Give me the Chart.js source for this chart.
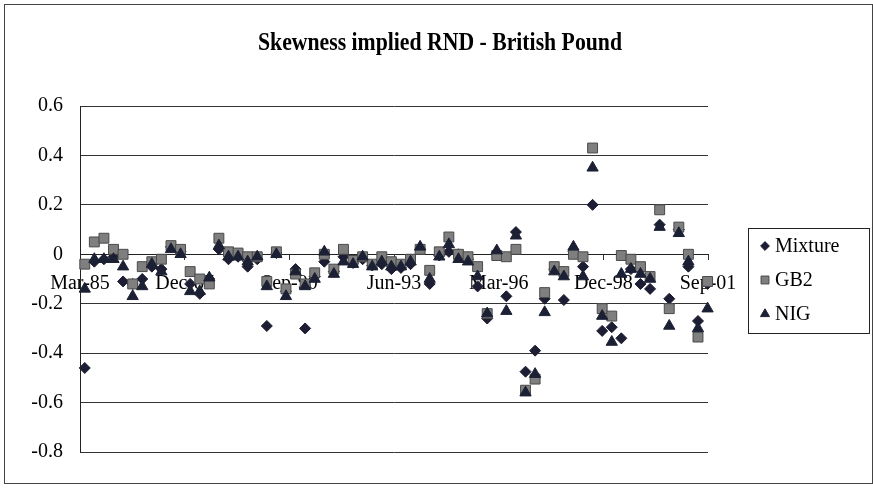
<!DOCTYPE html>
<html>
<head>
<meta charset="utf-8">
<script src="https://cdn.jsdelivr.net/npm/chart.js@4.4.1/dist/chart.umd.min.js"></script>
<style>
  html, body { margin: 0; padding: 0; background: #fff; }
  #wrap { width: 873px; height: 488px; position: relative; }
</style>
</head>
<body>
<div id="wrap"><canvas id="skewChart"></canvas></div>
<script>
// x axis tick labels (every 11 quarters)
var tickLabels = ["Mar-85", "Dec-87", "Sep-90", "Jun-93", "Mar-96", "Dec-98", "Sep-01"];
var seriesNames = ["Mixture", "GB2", "NIG"];

// skewness of implied RND, one observation per quarter
var mixture = [-0.46, -0.03, -0.02, -0.01, -0.11, -0.12, -0.10, -0.05, -0.06, 0.03,
  0.01, -0.12, -0.16, -0.10, 0.02, -0.02, -0.01, -0.05, -0.02, -0.29,
  0.005, -0.15, -0.06, -0.30, -0.09, -0.03, -0.07, -0.01, -0.035, -0.02,
  -0.045, -0.04, -0.06, -0.055, -0.04, 0.02, -0.12, -0.005, 0.01, 0.0,
  -0.02, -0.13, -0.26, 0.005, -0.17, 0.09, -0.475, -0.39, -0.18, -0.06,
  -0.185, 0.01, -0.05, 0.20, -0.31, -0.295, -0.34, -0.06, -0.12, -0.14,
  0.12, -0.18, 0.10, -0.05, -0.27, -0.12];
var gb2 = [-0.04, 0.05, 0.065, 0.02, 0.0, -0.12, -0.05, -0.03, -0.02, 0.035,
  0.02, -0.07, -0.10, -0.12, 0.065, 0.01, 0.005, -0.01, -0.01, -0.11,
  0.01, -0.14, -0.08, -0.12, -0.075, 0.0, -0.06, 0.02, -0.025, -0.01,
  -0.04, -0.01, -0.03, -0.04, -0.02, 0.02, -0.065, 0.01, 0.07, 0.0,
  -0.01, -0.05, -0.24, -0.005, -0.01, 0.02, -0.55, -0.505, -0.155, -0.05,
  -0.07, 0.0, -0.01, 0.43, -0.22, -0.25, -0.005, -0.02, -0.05, -0.09,
  0.18, -0.22, 0.11, 0.0, -0.335, -0.11];
var nig = [-0.14, -0.02, -0.02, -0.02, -0.05, -0.17, -0.13, -0.04, -0.07, 0.02,
  0.0, -0.15, -0.15, -0.095, 0.035, -0.01, -0.01, -0.03, -0.01, -0.13,
  0.0, -0.17, -0.07, -0.13, -0.10, 0.01, -0.08, -0.03, -0.04, -0.01,
  -0.05, -0.03, -0.05, -0.05, -0.03, 0.03, -0.10, -0.01, 0.04, -0.02,
  -0.03, -0.09, -0.24, 0.015, -0.23, 0.075, -0.56, -0.485, -0.235, -0.07,
  -0.09, 0.03, -0.09, 0.35, -0.25, -0.355, -0.08, -0.06, -0.08, -0.10,
  0.11, -0.29, 0.085, -0.03, -0.30, -0.22];

var firstObs = 0.5;   // first observation sits half a quarter after Mar-85
var obsStep = 1.007;  // observations are spaced a touch over a quarter apart

function toPoints(arr) {
    return arr.map((v, i) => ({x: firstObs + i * obsStep, y: v}));
}

var serif = "'Liberation Serif', 'Times New Roman', serif";
Chart.defaults.font.family = serif;
Chart.defaults.color = "#000";

var styles = [
    {shape: "rectRot", radius: 5.5, fill: "#1d1d33", stroke: "#1d1d33"},
    {shape: "rect", radius: 7, fill: "#7f7f7f", stroke: "#4a4a4a"},
    {shape: "triangle", radius: 6.5, fill: "#1c2034", stroke: "#1c2034"}
];

// white page, outer frame, title and boxed legend
var decor = {
    id: "decor",
    beforeDraw(chart) {
        var ctx = chart.ctx;
        ctx.save();
        ctx.fillStyle = "#fff";
        ctx.fillRect(0, 0, chart.width, chart.height);
        ctx.restore();
    },
    afterDraw(chart) {
        var ctx = chart.ctx;
        ctx.save();
        ctx.strokeStyle = "#444";
        ctx.lineWidth = 1;
        ctx.strokeRect(4.5, 4.5, 868, 479);

        // title, condensed like the original
        ctx.font = "bold 26px " + serif;
        var title = "Skewness implied RND - British Pound";
        var w = ctx.measureText(title).width;
        var sx = 364 / w;
        ctx.translate(440, 43);
        ctx.scale(sx, 1);
        ctx.fillStyle = "#000";
        ctx.textAlign = "center";
        ctx.textBaseline = "middle";
        ctx.fillText(title, 0, 0);
        ctx.setTransform(1, 0, 0, 1, 0, 0);

        // legend
        ctx.strokeStyle = "#222";
        ctx.strokeRect(748.5, 228.5, 121, 105);
        ctx.font = "20px " + serif;
        ctx.textAlign = "left";
        ctx.textBaseline = "middle";
        seriesNames.forEach((name, k) => {
            var y = 246 + k * 34;
            var st = styles[k];
            ctx.fillStyle = st.fill;
            ctx.strokeStyle = st.stroke;
            Chart.helpers.drawPoint(ctx, {pointStyle: st.shape, radius: st.radius * 0.8, borderWidth: 1}, 765, y);
            ctx.fillStyle = "#000";
            ctx.fillText(name, 775, y + 1);
        });
        ctx.restore();
    }
};

function makeSet(k, arr, order) {
    var st = styles[k];
    return {
        label: seriesNames[k],
        data: toPoints(arr),
        pointStyle: st.shape,
        pointRadius: st.radius,
        pointHoverRadius: st.radius,
        backgroundColor: st.fill,
        borderColor: st.stroke,
        pointBorderWidth: 1,
        showLine: false,
        order: order,
        clip: false
    };
}

new Chart(document.getElementById("skewChart"), {
    type: "scatter",
    data: {
        datasets: [makeSet(0, mixture, 3), makeSet(1, gb2, 2), makeSet(2, nig, 1)]
    },
    plugins: [decor],
    options: {
        responsive: true,
        maintainAspectRatio: false,
        animation: false,
        layout: {padding: {top: 106, right: 165, bottom: 36, left: 0}},
        plugins: {
            legend: {display: false},
            title: {display: false},
            tooltip: {enabled: false}
        },
        scales: {
            x: {
                type: "linear",
                position: {y: 0},
                min: 0,
                max: 66,
                afterBuildTicks: function(scale) {
                    scale.ticks = tickLabels.map((t, i) => ({value: i * 11}));
                },
                ticks: {
                    font: {size: 20},
                    padding: 12,
                    maxRotation: 0,
                    autoSkip: false,
                    callback: function(v) { return tickLabels[Math.round(v / 11)]; }
                },
                grid: {drawOnChartArea: false, drawTicks: true, tickLength: 5, color: "#333"},
                border: {display: true, color: "#222", width: 1}
            },
            y: {
                min: -0.8,
                max: 0.6,
                afterFit: function(scale) { scale.width = 80; },
                ticks: {
                    stepSize: 0.2,
                    font: {size: 20},
                    padding: 17,
                    callback: function(v) { return String(Number(v.toFixed(1))); }
                },
                grid: {color: "#333", lineWidth: 1, drawTicks: false},
                border: {display: true, color: "#222", width: 1}
            }
        }
    }
});
</script>
</body>
</html>
